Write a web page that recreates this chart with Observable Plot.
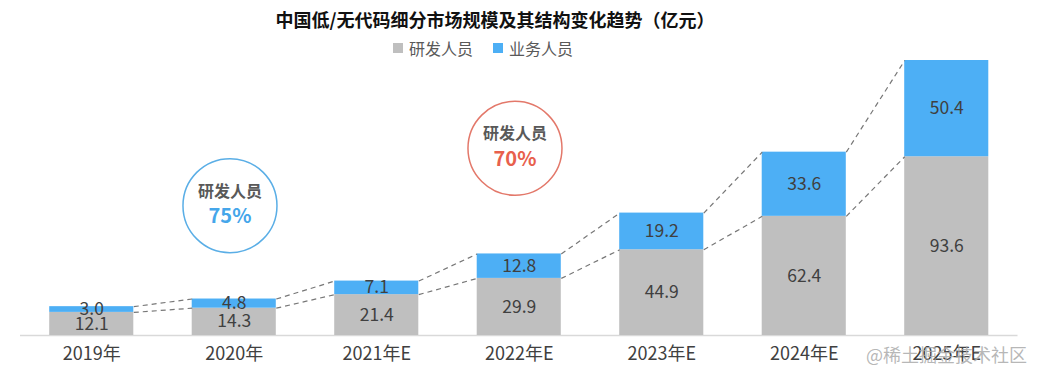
<!DOCTYPE html>
<html>
<head>
<meta charset="utf-8">
<script src="https://cdn.jsdelivr.net/npm/d3@7"></script>
<script src="https://cdn.jsdelivr.net/npm/@observablehq/plot@0.6"></script>
<style>
  body { margin: 0; background: #fff; font-family: "Noto Sans CJK SC", "Noto Sans", sans-serif; }
  #wrap { position: relative; width: 1043px; height: 378px; overflow: hidden; }
  #title { width: 990px; height: 38px; line-height: 38px; text-align: center; font-size: 18px; font-weight: bold; color: #111; }
  #legend { height: 20px; line-height: 20px; display: flex; align-items: center; margin-left: 393px; font-size: 16px; color: #595959; }
  .sw { width: 10px; height: 10px; display: inline-block; margin-right: 6px; }
  .item { display: flex; align-items: center; margin-right: 20px; }
  #wm { position: absolute; left: 866px; top: 341px; font-size: 18px; color: rgba(170,170,170,0.85); }
</style>
</head>
<body>
<div id="wrap">
  <div id="title">中国低/无代码细分市场规模及其结构变化趋势（亿元）</div>
  <div id="legend"></div>
  <div id="chart"></div>
  <div id="wm">@稀土掘金技术社区</div>
</div>
<script>
const categories = ["2019年", "2020年", "2021年E", "2022年E", "2023年E", "2024年E", "2025年E"];
const rdValues = [12.1, 14.3, 21.4, 29.9, 44.9, 62.4, 93.6];      // 研发人员
const bizValues = [3.0, 4.8, 7.1, 12.8, 19.2, 33.6, 50.4];        // 业务人员
const seriesNames = ["研发人员", "业务人员"];
const seriesColors = ["#bfbfbf", "#4daff5"];

// annotation bubbles (x in category index units, y in value units)
const annoX = [0.97, 2.97];
const annoY = [68, 98];
const annoTitle = ["研发人员", "研发人员"];
const annoPct = ["75%", "70%"];
const annoStroke = ["#5aaee6", "#e3786a"];
const annoColor = ["#45a6ea", "#e8604c"];

const hw = 0.295; // half bar width in index units

const bars = [];
categories.forEach((c, i) => {
  bars.push({i, s: seriesNames[0], y1: 0, y2: rdValues[i], v: rdValues[i]});
  bars.push({i, s: seriesNames[1], y1: rdValues[i], y2: rdValues[i] + bizValues[i], v: bizValues[i]});
});
const links = [];
for (let i = 0; i < categories.length - 1; i++) {
  links.push({x1: i + hw, x2: i + 1 - hw, y1: rdValues[i], y2: rdValues[i + 1]});
  links.push({x1: i + hw, x2: i + 1 - hw, y1: rdValues[i] + bizValues[i], y2: rdValues[i + 1] + bizValues[i + 1]});
}
const annos = annoX.map((x, k) => ({x, y: annoY[k], t: annoTitle[k], p: annoPct[k], s: annoStroke[k], c: annoColor[k]}));

// legend
const lg = document.getElementById("legend");
seriesNames.forEach((n, k) => {
  const d = document.createElement("div");
  d.className = "item";
  d.innerHTML = `<span class="sw" style="background:${seriesColors[k]}"></span>${n}`;
  lg.appendChild(d);
});

const chart = Plot.plot({
  width: 1043,
  height: 320,
  marginTop: 2,
  marginBottom: 43,
  marginLeft: 20,
  marginRight: 25.5,
  style: {fontFamily: '"Noto Sans CJK SC", "Noto Sans", sans-serif', background: "transparent"},
  x: {domain: [-0.5, categories.length - 0.5]},
  y: {domain: [0, 144], axis: null},
  color: {domain: seriesNames, range: seriesColors},
  marks: [
    Plot.ruleY([0], {stroke: "#d9d9d9", strokeWidth: 1.5}),
    Plot.rectY(bars, {x1: d => d.i - hw, x2: d => d.i + hw, y1: "y1", y2: "y2", fill: "s"}),
    Plot.link(links, {x1: "x1", x2: "x2", y1: "y1", y2: "y2", stroke: "#777", strokeWidth: 1.2, strokeDasharray: "5,4"}),
    Plot.text(bars, {x: "i", y: d => (d.y1 + d.y2) / 2, text: d => d.v.toFixed(1), fill: "#404040", fontSize: 17.5}),
    Plot.axisX({ticks: d3.range(categories.length), tickFormat: i => categories[i], tickSize: 0, tickPadding: 12, fontSize: 18, color: "#404040", label: null}),
    Plot.dot(annos, {x: "x", y: "y", r: 47, stroke: "s", fill: "none", strokeWidth: 1.5}),
    Plot.text(annos, {x: "x", y: "y", text: "t", dy: -14, fontSize: 16, fontWeight: "bold", fill: "#595959"}),
    Plot.text(annos, {x: "x", y: "y", text: "p", dy: 11, fontSize: 20, fontWeight: "bold", fill: "c"})
  ]
});
document.getElementById("chart").appendChild(chart);
</script>
</body>
</html>
